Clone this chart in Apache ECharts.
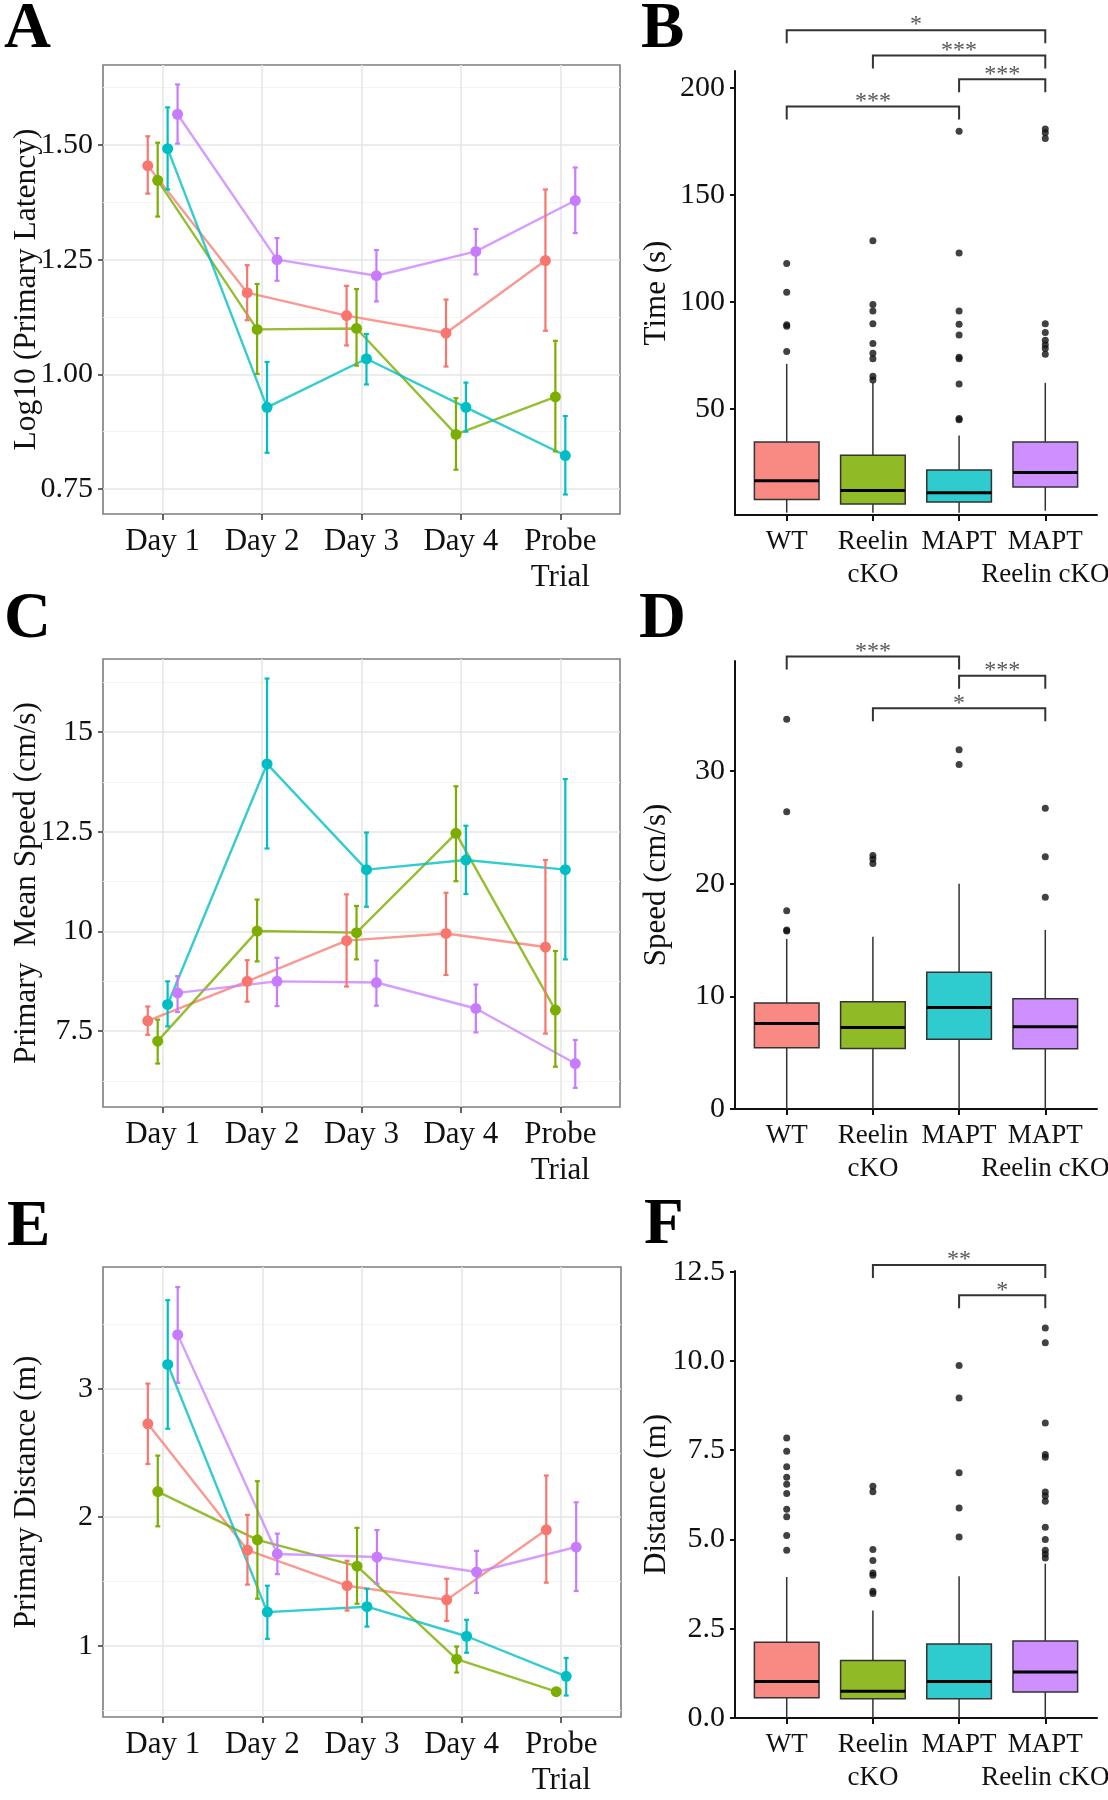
<!DOCTYPE html>
<html>
<head>
<meta charset="utf-8">
<script src="https://cdn.jsdelivr.net/npm/echarts@6/dist/echarts.min.js"></script>
<style>
html,body{margin:0;padding:0;background:#fff;}
#chart{width:1108px;height:1800px;}
</style>
</head>
<body>
<div id="chart"></div>
<script>
// ---------------- DATA ----------------
const groups = ['WT', 'Reelin cKO', 'MAPT', 'MAPT Reelin cKO'];
const groupTickLabels = ['WT', 'Reelin\ncKO', 'MAPT', 'MAPT\nReelin cKO'];
const days = ['Day 1', 'Day 2', 'Day 3', 'Day 4', 'Probe\nTrial'];
const colors = ['#F8766D', '#7CAE00', '#00BFC4', '#C77CFF'];

// Panel A: log10 primary latency (mean, lower, upper), rows = groups
const latencyMean = [
  [1.455, 1.178, 1.128, 1.090, 1.248],
  [1.423, 1.098, 1.100, 0.869, 0.951],
  [1.492, 0.928, 1.034, 0.928, 0.823],
  [1.567, 1.250, 1.215, 1.268, 1.379]
];
const latencyLow = [
  [1.394, 1.118, 1.063, 1.017, 1.095],
  [1.344, 1.001, 1.019, 0.792, 0.832],
  [1.403, 0.829, 0.978, 0.875, 0.738],
  [1.503, 1.204, 1.159, 1.218, 1.308]
];
const latencyHigh = [
  [1.519, 1.238, 1.193, 1.163, 1.403],
  [1.505, 1.197, 1.186, 0.948, 1.073],
  [1.582, 1.027, 1.088, 0.982, 0.909],
  [1.632, 1.297, 1.271, 1.317, 1.451]
];
const latencyTicks = [0.75, 1.00, 1.25, 1.50];
const latencyMinor = [0.875, 1.125, 1.375, 1.625];

// Panel C: primary mean speed
const speedMean = [
  [7.76, 8.75, 9.77, 9.95, 9.61],
  [7.25, 10.01, 9.97, 12.46, 8.03],
  [8.17, 14.20, 11.55, 11.79, 11.55],
  [8.46, 8.75, 8.72, 8.07, 6.69]
];
const speedLow = [
  [7.41, 8.24, 8.62, 8.91, 7.44],
  [6.69, 9.25, 9.30, 11.26, 6.61],
  [7.62, 12.08, 10.62, 10.94, 9.30],
  [7.98, 8.13, 8.14, 7.47, 6.08]
];
const speedHigh = [
  [8.12, 9.28, 10.93, 10.97, 11.79],
  [7.79, 10.80, 10.64, 13.64, 9.51],
  [8.75, 16.34, 12.48, 12.65, 13.82],
  [8.88, 9.34, 9.27, 8.67, 7.28]
];
const speedTicks = [7.5, 10, 12.5, 15];
const speedMinor = [6.25, 8.75, 11.25, 13.75, 16.25];

// Panel E: primary distance
const distMean = [
  [2.726, 1.744, 1.467, 1.357, 1.902],
  [2.199, 1.824, 1.619, 0.896, 0.643],
  [3.188, 1.262, 1.304, 1.074, 0.762],
  [3.420, 1.714, 1.690, 1.574, 1.768]
];
const distLow = [
  [2.414, 1.476, 1.274, 1.193, 1.491],
  [1.929, 1.366, 1.327, 0.792, 0.628],
  [2.688, 1.054, 1.149, 0.946, 0.613],
  [3.045, 1.557, 1.482, 1.411, 1.426]
];
const distHigh = [
  [3.039, 2.018, 1.661, 1.521, 2.324],
  [2.479, 2.280, 1.917, 0.994, 0.658],
  [3.688, 1.467, 1.443, 1.202, 0.905],
  [3.790, 1.872, 1.900, 1.738, 2.116]
];
const distTicks = [1, 2, 3];
const distMinor = [0.5, 1.5, 2.5, 3.5];

// Panel B: time boxplots [lower whisker, Q1, median, Q3, upper whisker]
const timeBoxes = [
  [1.4, 7.5, 16.3, 34.5, 71.0],
  [1.4, 5.4, 11.8, 28.2, 62.0],
  [1.4, 6.4, 10.7, 21.4, 37.5],
  [2.3, 13.4, 20.2, 34.5, 62.1]
];
const timeOutliers = [
  [117.9, 104.5, 89.3, 88.6, 76.8],
  [128.6, 98.8, 95.7, 89.8, 80.5, 76.0, 73.4, 65.2, 63.4],
  [179.8, 122.9, 95.7, 89.5, 84.5, 74.1, 73.4, 61.6, 45.5, 44.8],
  [180.9, 179.1, 176.4, 89.8, 85.7, 82.1, 80.0, 78.2, 75.5]
];
const timeTicks = [50, 100, 150, 200];
const timeBrackets = [[1, 4, 227.1], [2, 4, 215.2], [3, 4, 204.1], [1, 3, 191.4]];
const timeStars = ['*', '***', '***', '***'];

// Panel D: speed boxplots
const speedBoxes = [
  [0, 5.44, 7.59, 9.42, 15.1],
  [0, 5.37, 7.24, 9.52, 15.3],
  [0, 6.19, 9.01, 12.14, 20.0],
  [0, 5.34, 7.31, 9.80, 15.9]
];
const speedOutliers = [
  [34.6, 26.4, 17.6, 15.9, 15.8],
  [22.5, 22.2, 21.8],
  [31.9, 30.6],
  [26.7, 22.4, 18.8]
];
const speedBoxTicks = [0, 10, 20, 30];
const speedBrackets = [[1, 3, 40.17], [3, 4, 38.46], [2, 4, 35.58]];
const speedStars = ['***', '***', '*'];

// Panel F: distance boxplots
const distBoxes = [
  [0, 0.57, 1.02, 2.12, 3.95],
  [0, 0.54, 0.75, 1.61, 3.01],
  [0, 0.54, 1.02, 2.07, 3.97],
  [0, 0.73, 1.29, 2.16, 4.32]
];
const distOutliers = [
  [7.84, 7.47, 7.04, 6.74, 6.55, 6.29, 5.85, 5.64, 5.11, 4.70],
  [6.49, 6.34, 4.72, 4.41, 4.06, 4.00, 3.55, 3.49],
  [9.87, 8.96, 6.87, 5.88, 5.07],
  [10.92, 10.51, 8.26, 7.38, 7.30, 6.33, 6.22, 6.07, 5.34, 5.00, 4.70, 4.59, 4.48]
];
const distBoxTicks = [0, 2.5, 5, 7.5, 10, 12.5];
const distBrackets = [[2, 4, 12.69], [3, 4, 11.84]];
const distStars = ['**', '*'];

// ---------------- STYLE / LAYOUT ----------------
const FONT = "'Liberation Serif', 'Times New Roman', serif";
const TXT = '#111111';
const dodge = [-0.15, -0.05, 0.05, 0.15];
const fills = ['rgba(248,118,109,0.85)', 'rgba(124,174,0,0.85)', 'rgba(0,191,196,0.82)', 'rgba(199,124,255,0.85)'];
const lineColors = ['rgba(248,118,109,0.75)', 'rgba(124,174,0,0.8)', 'rgba(0,191,196,0.8)', 'rgba(199,124,255,0.75)'];

const grids = [
  {left: 103, top: 65, width: 517, height: 449},   // A
  {left: 735, top: 71, width: 362, height: 444},   // B
  {left: 103, top: 659, width: 517, height: 448},  // C
  {left: 735, top: 661, width: 362, height: 448},  // D
  {left: 103, top: 1267, width: 518, height: 450}, // E
  {left: 735, top: 1271, width: 362, height: 447}  // F
];

const lineGridStyle = {show: true, borderColor: '#7d7d7d', borderWidth: 1.6, backgroundColor: 'transparent'};

function lineXAxis(gi) {
  return {
    gridIndex: gi, type: 'value', min: 0.4, max: 5.6,
    axisLine: {show: false},
    axisTick: {show: true, length: 6, customValues: [1, 2, 3, 4, 5], lineStyle: {color: '#333', width: 1.5}},
    axisLabel: {customValues: [1, 2, 3, 4, 5], formatter: v => days[Math.round(v) - 1], margin: 10,
      fontFamily: FONT, fontSize: 31, color: TXT, lineHeight: 36, hideOverlap: false,
      showMinLabel: true, showMaxLabel: true},
    splitLine: {show: true, lineStyle: {color: '#e6e6e6', width: 1.6}}
  };
}
function lineYAxis(gi, min, max, ticks, fmt, name, gap) {
  return {
    gridIndex: gi, type: 'value', min: min, max: max,
    name: name, nameLocation: 'middle', nameRotate: 90, nameGap: gap, nameMoveOverlap: false,
    nameTextStyle: {fontFamily: FONT, fontSize: 31.5, color: TXT},
    axisLine: {show: false},
    axisTick: {show: true, length: 5, customValues: ticks, lineStyle: {color: '#333', width: 1.5}},
    axisLabel: {customValues: ticks, formatter: fmt, margin: 10, fontFamily: FONT, fontSize: 30, color: TXT,
      showMinLabel: true, showMaxLabel: true},
    splitLine: {show: true, lineStyle: {color: '#e6e6e6', width: 1.6}}
  };
}
function minorYAxis(gi, min, max, minors) {
  return {
    gridIndex: gi, type: 'value', min: min, max: max, position: 'left',
    axisLine: {show: false},
    axisTick: {show: false, customValues: minors},
    axisLabel: {show: false, customValues: minors},
    splitLine: {show: true, lineStyle: {color: '#f3f3f3', width: 1.2}}
  };
}
// Box panels: labels split across two overlaid x axes so neighbouring wide labels are all drawn
function boxXAxis(gi, labelValues, isMain) {
  return {
    gridIndex: gi, type: 'value', min: 0.4, max: 4.6, position: 'bottom', offset: 0,
    axisLine: {show: isMain, lineStyle: {color: '#111', width: 2}},
    axisTick: {show: isMain, length: 6, customValues: [1, 2, 3, 4], lineStyle: {color: '#111', width: 2}},
    axisLabel: {customValues: labelValues, formatter: v => groupTickLabels[Math.round(v) - 1], margin: 10,
      fontFamily: FONT, fontSize: 27, color: TXT, lineHeight: 33, hideOverlap: false,
      showMinLabel: true, showMaxLabel: true},
    splitLine: {show: false}
  };
}
function boxYAxis(gi, min, max, ticks, fmt, name, gap) {
  return {
    gridIndex: gi, type: 'value', min: min, max: max,
    name: name, nameLocation: 'middle', nameRotate: 90, nameGap: gap, nameMoveOverlap: false,
    nameTextStyle: {fontFamily: FONT, fontSize: 31, color: TXT},
    axisLine: {show: true, lineStyle: {color: '#111', width: 2}},
    axisTick: {show: true, length: 5, customValues: ticks, lineStyle: {color: '#111', width: 2}},
    axisLabel: {customValues: ticks, formatter: fmt, margin: 10, fontFamily: FONT, fontSize: 30, color: TXT,
      showMinLabel: true, showMaxLabel: true},
    splitLine: {show: false}
  };
}

// ---------------- SERIES BUILDERS ----------------
function errorBarRender(params, api) {
  const x = api.value(0), lo = api.value(1), hi = api.value(2), g = api.value(3);
  const t = api.coord([x, hi]), b = api.coord([x, lo]);
  const cap = 2.5;
  const st = {stroke: colors[g], lineWidth: 2.2};
  return {type: 'group', children: [
    {type: 'line', shape: {x1: t[0], y1: t[1], x2: b[0], y2: b[1]}, style: st},
    {type: 'line', shape: {x1: t[0] - cap, y1: t[1], x2: t[0] + cap, y2: t[1]}, style: st},
    {type: 'line', shape: {x1: b[0] - cap, y1: b[1], x2: b[0] + cap, y2: b[1]}, style: st}
  ]};
}
function linePanelSeries(gi, yi, mean, low, high) {
  const out = [];
  for (let g = 0; g < 4; g++) {
    const pts = mean[g].map((v, i) => [i + 1 + dodge[g], v]);
    out.push({
      type: 'line', name: groups[g], xAxisIndex: gi, yAxisIndex: yi, data: pts,
      showSymbol: false, z: 2, silent: true,
      lineStyle: {color: lineColors[g], width: 2.4}, itemStyle: {color: colors[g]}
    });
    out.push({
      type: 'custom', xAxisIndex: gi, yAxisIndex: yi, z: 3, silent: true,
      data: mean[g].map((v, i) => [i + 1 + dodge[g], low[g][i], high[g][i], g]),
      encode: {x: 0, y: [1, 2]},
      renderItem: errorBarRender
    });
    out.push({
      type: 'scatter', xAxisIndex: gi, yAxisIndex: yi, data: pts, z: 4, silent: true,
      symbol: 'circle', symbolSize: 11, itemStyle: {color: colors[g], opacity: 1}
    });
  }
  return out;
}
function boxRender(params, api) {
  const x = api.value(0);
  const g = api.value(6);
  const half = api.size([0.75, 0])[0] / 2;
  const pMin = api.coord([x, api.value(1)]);
  const pQ1 = api.coord([x, api.value(2)]);
  const pMed = api.coord([x, api.value(3)]);
  const pQ3 = api.coord([x, api.value(4)]);
  const pMax = api.coord([x, api.value(5)]);
  const cx = pMed[0];
  const wst = {stroke: '#333', lineWidth: 1.5};
  return {type: 'group', children: [
    {type: 'line', shape: {x1: cx, y1: pQ3[1], x2: cx, y2: pMax[1]}, style: wst},
    {type: 'line', shape: {x1: cx, y1: pQ1[1], x2: cx, y2: pMin[1]}, style: wst},
    {type: 'rect', shape: {x: cx - half, y: pQ3[1], width: 2 * half, height: pQ1[1] - pQ3[1]},
      style: {fill: fills[g], stroke: '#333', lineWidth: 1.5}},
    {type: 'line', shape: {x1: cx - half, y1: pMed[1], x2: cx + half, y2: pMed[1]}, style: {stroke: '#000', lineWidth: 3}}
  ]};
}
function bracketRenderFactory(stars) {
  return function (params, api) {
    const p1 = api.coord([api.value(0), api.value(2)]);
    const p2 = api.coord([api.value(1), api.value(2)]);
    const drop = 13;
    return {type: 'group', children: [
      {type: 'polyline', shape: {points: [[p1[0], p1[1] + drop], [p1[0], p1[1]], [p2[0], p2[1]], [p2[0], p2[1] + drop]]},
        style: {stroke: '#333', lineWidth: 2, fill: null}},
      {type: 'text', x: (p1[0] + p2[0]) / 2, y: p1[1] + 7,
        style: {text: stars[params.dataIndex], align: 'center', verticalAlign: 'bottom',
          font: "24px 'Liberation Serif', serif", fill: '#555'}}
    ]};
  };
}
function boxPanelSeries(gi, boxes, outliers, brackets, stars) {
  const out = [];
  out.push({
    type: 'custom', xAxisIndex: gi, yAxisIndex: gi, z: 2, silent: true,
    data: boxes.map((b, i) => [i + 1, b[0], b[1], b[2], b[3], b[4], i]),
    encode: {x: 0, y: [1, 5]},
    renderItem: boxRender
  });
  const pts = [];
  outliers.forEach((arr, i) => arr.forEach(v => pts.push([i + 1, v])));
  out.push({
    type: 'scatter', xAxisIndex: gi, yAxisIndex: gi, z: 3, silent: true, data: pts,
    symbol: 'circle', symbolSize: 7, itemStyle: {color: '#111'}
  });
  out.push({
    type: 'custom', xAxisIndex: gi, yAxisIndex: gi, z: 5, silent: true, clip: false,
    data: brackets, encode: {x: [0, 1], y: 2},
    renderItem: bracketRenderFactory(stars)
  });
  return out;
}

// ---------------- OPTION ----------------
const xAxes = [
  lineXAxis(0), boxXAxis(1, [1, 2, 4], true), lineXAxis(2), boxXAxis(3, [1, 2, 4], true),
  lineXAxis(4), boxXAxis(5, [1, 2, 4], true),
  boxXAxis(1, [3], false), boxXAxis(3, [3], false), boxXAxis(5, [3], false)
];
const yAxes = [
  lineYAxis(0, 0.6955, 1.6744, latencyTicks, v => v.toFixed(2), 'Log10 (Primary Latency)', 60),
  boxYAxis(1, 0.3, 208, timeTicks, v => String(v), 'Time (s)', 63),
  lineYAxis(2, 5.60, 16.83, speedTicks, v => String(v), 'Primary  Mean Speed (cm/s)', 60),
  boxYAxis(3, 0, 39.78, speedBoxTicks, v => String(v), 'Speed (cm/s)', 63),
  lineYAxis(4, 0.446, 3.946, distTicks, v => String(v), 'Primary Distance (m)', 60),
  boxYAxis(5, 0, 12.52, distBoxTicks, v => v.toFixed(1), 'Distance (m)', 63),
  minorYAxis(0, 0.6955, 1.6744, latencyMinor),
  minorYAxis(2, 5.60, 16.83, speedMinor),
  minorYAxis(4, 0.446, 3.946, distMinor)
];

const series = [].concat(
  linePanelSeries(0, 0, latencyMean, latencyLow, latencyHigh),
  linePanelSeries(2, 2, speedMean, speedLow, speedHigh),
  linePanelSeries(4, 4, distMean, distLow, distHigh),
  boxPanelSeries(1, timeBoxes, timeOutliers, timeBrackets, timeStars),
  boxPanelSeries(3, speedBoxes, speedOutliers, speedBrackets, speedStars),
  boxPanelSeries(5, distBoxes, distOutliers, distBrackets, distStars)
);

const panelLetters = [['A', 4, 31], ['B', 641, 31], ['C', 4, 621], ['D', 639, 621], ['E', 7, 1229], ['F', 644, 1227]];

const option = {
  animation: false,
  backgroundColor: '#ffffff',
  grid: grids.map((g, i) => Object.assign({}, g, {containLabel: false, outerBoundsMode: 'none'},
    (i % 2 === 0) ? lineGridStyle : {show: false})),
  xAxis: xAxes,
  yAxis: yAxes,
  series: series,
  graphic: panelLetters.map(p => ({
    type: 'text', left: p[1], top: p[2] - 33, z: 10,
    style: {text: p[0], font: "bold 65px 'Liberation Serif', serif", fill: '#000'}
  }))
};

const chart = echarts.init(document.getElementById('chart'), null, {renderer: 'canvas'});
chart.setOption(option);
</script>
</body>
</html>
